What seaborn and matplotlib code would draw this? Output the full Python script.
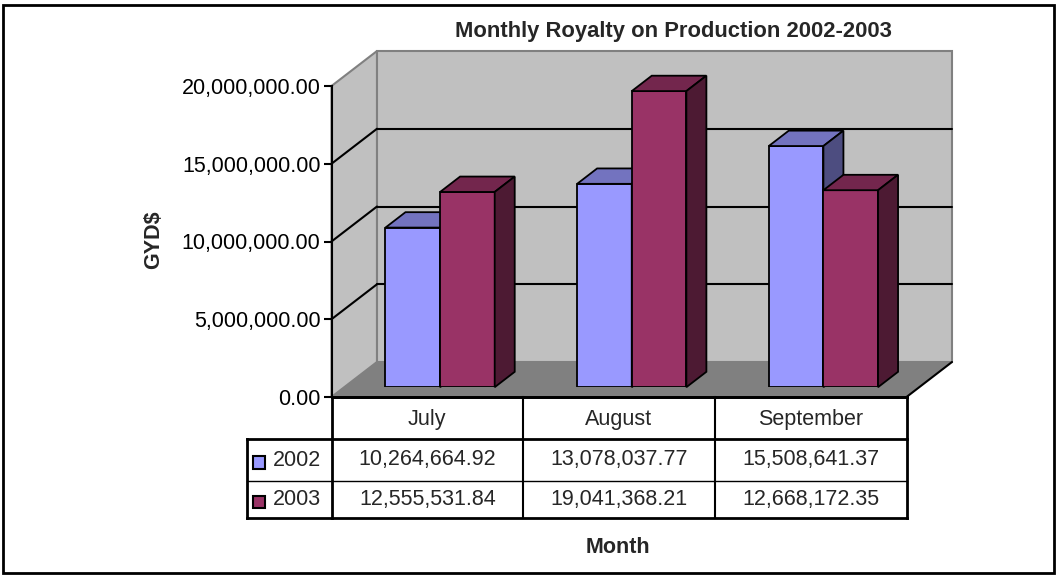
import numpy as np
import pandas as pd
import seaborn as sns
import matplotlib.pyplot as plt
from matplotlib.patches import Polygon, Rectangle

months = ["July", "August", "September"]
years = ["2002", "2003"]
royalty_2002 = [10264664.92, 13078037.77, 15508641.37]
royalty_2003 = [12555531.84, 19041368.21, 12668172.35]
y_ticks = [0, 5000000, 10000000, 15000000, 20000000]

title = "Monthly Royalty on Production 2002-2003"
colors = ["#9999FF", "#993366"]

sns.set_style("white")
plt.rcParams["font.family"] = ["Liberation Sans", "DejaVu Sans"]

W, H = 1056, 577
fig = plt.figure(figsize=(W / 100, H / 100), dpi=100)


def box(l, t, r, b):
    # pixel box (from top-left) -> figure fraction rect
    return [l / W, 1 - b / H, (r - l) / W, (b - t) / H]


# front plane of the plot box, in pixels
FL, FR, F0, F20 = 331.5, 906.5, 397, 86
DEPTH_X, DEPTH_Y = 45.5, 35
ymax = y_ticks[-1]
fs = 15.5

ax = fig.add_axes(box(FL, F20, FR, F0))
ax.set_xlim(-0.5, 2.5)
ax.set_ylim(0, ymax)
ax.patch.set_visible(False)

dxd = DEPTH_X / (FR - FL) * 3
dyd = DEPTH_Y / (F0 - F20) * ymax

# walls and floor
wall, edge = "#C0C0C0", "#808080"
ax.add_patch(Polygon([(-0.5, 0), (-0.5 + dxd, dyd), (-0.5 + dxd, ymax + dyd), (-0.5, ymax)],
                     fc=wall, ec=edge, lw=1.5, clip_on=False, zorder=0))
ax.add_patch(Rectangle((-0.5 + dxd, dyd), 3, ymax, fc=wall, ec=edge, lw=1.5,
                       clip_on=False, zorder=0))
ax.add_patch(Polygon([(-0.5, 0), (2.5, 0), (2.5 + dxd, dyd), (-0.5 + dxd, dyd)],
                     fc="#808080", ec="none", clip_on=False, zorder=0.5))
for v in y_ticks[1:-1]:
    ax.plot([-0.5 + dxd, 2.5 + dxd], [v + dyd] * 2, color="black", lw=1.5, clip_on=False, zorder=1)
    ax.plot([-0.5, -0.5 + dxd], [v, v + dyd], color="black", lw=1.5, clip_on=False, zorder=1)
ax.plot([2.5, 2.5 + dxd], [0, dyd], color="black", lw=1.5, clip_on=False, zorder=1)

for s in ["top", "right"]:
    ax.spines[s].set_visible(False)
ax.spines["left"].set_color("black")
ax.spines["left"].set_linewidth(1.5)
ax.spines["bottom"].set_color("black")
ax.spines["bottom"].set_linewidth(2)
ax.set_xticks([])
ax.set_yticks(y_ticks)
ax.set_yticklabels([f"{v:,.2f}" for v in y_ticks])
ax.tick_params(axis="y", left=True, direction="out", length=6, width=1.5,
               labelsize=fs, pad=2, colors="black")

# bars, sitting a bit into the depth
f0, bd = 0.28, 0.44
ax_bar = fig.add_axes(box(FL + f0 * DEPTH_X, F20 - f0 * DEPTH_Y, FR + f0 * DEPTH_X, F0 - f0 * DEPTH_Y))
df = pd.DataFrame({
    "Month": months * 2,
    "Year": [y for y in years for _ in months],
    "Royalty": royalty_2002 + royalty_2003,
})
sns.barplot(data=df, x="Month", y="Royalty", hue="Year", palette=colors, saturation=1,
            width=0.57, edgecolor="black", linewidth=1.3, errorbar=None,
            legend=False, ax=ax_bar)
ax_bar.set_xlim(-0.5, 2.5)
ax_bar.set_ylim(0, ymax)
ax_bar.axis("off")

bdx, bdy = bd * dxd, bd * dyd
bars = sorted(ax_bar.patches, key=lambda p: p.get_x())
for i, p in enumerate(bars):
    x0, w, h = p.get_x(), p.get_width(), p.get_height()
    fc = np.array(p.get_facecolor()[:3])
    z = 3 + i * 2
    p.set_zorder(z)
    ax_bar.add_patch(Polygon([(x0, h), (x0 + w, h), (x0 + w + bdx, h + bdy), (x0 + bdx, h + bdy)],
                             fc=fc * 0.75, ec="black", lw=1.3, zorder=z, clip_on=False))
    ax_bar.add_patch(Polygon([(x0 + w, 0), (x0 + w, h), (x0 + w + bdx, h + bdy), (x0 + w + bdx, bdy)],
                             fc=fc * 0.5, ec="black", lw=1.3, zorder=z, clip_on=False))

# data table
LK, TB = 246.7, 518
ax_tab = fig.add_axes(box(LK, F0, FR, TB))
kx = 3 / (FR - FL)
left_x = -0.5 - (FL - LK) * kx
ax_tab.set_xlim(left_x, 2.5)
ax_tab.set_ylim(TB - F0, 0)
ax_tab.axis("off")
rows = [0, 42, 84, TB - F0]

kw = dict(color="black", clip_on=False, solid_capstyle="projecting")
ax_tab.plot([-0.5, 2.5], [0, 0], lw=2, **kw)
ax_tab.plot([left_x, 2.5], [rows[1]] * 2, lw=2, **kw)
ax_tab.plot([left_x, 2.5], [rows[2]] * 2, lw=1, **kw)
ax_tab.plot([left_x, 2.5], [rows[3]] * 2, lw=2, **kw)
ax_tab.plot([-0.5, -0.5], [0, rows[3]], lw=2, **kw)
ax_tab.plot([2.5, 2.5], [0, rows[3]], lw=2, **kw)
ax_tab.plot([left_x, left_x], [rows[1], rows[3]], lw=2, **kw)
for xb in [0.5, 1.5]:
    ax_tab.plot([xb, xb], [0, rows[3]], lw=1.5, **kw)

for i, m in enumerate(months):
    ax_tab.text(i, 22, m, ha="center", va="center", fontsize=fs)
for r, (yr, vals, c) in enumerate(zip(years, [royalty_2002, royalty_2003], colors)):
    yc = (rows[r + 1] + rows[r + 2]) / 2
    for i, v in enumerate(vals):
        ax_tab.text(i, yc, f"{v:,.2f}", ha="center", va="center", fontsize=fs)
    ax_tab.add_patch(Rectangle((left_x + 6 * kx, yc - 4), 12.3 * kx, 12.5, fc=c, ec="black",
                               lw=1.5, clip_on=False))
    ax_tab.text(left_x + 26.3 * kx, yc, yr, ha="left", va="center", fontsize=fs)

# titles
fig.text(673.5 / W, 1 - 37 / H, title, ha="center", va="baseline", fontsize=15.8, fontweight="bold")
fig.text(154 / W, 1 - 240 / H, "GYD$", ha="center", va="center", rotation=90,
         fontsize=fs, fontweight="bold")
fig.text(618 / W, 1 - 553 / H, "Month", ha="center", va="baseline", fontsize=fs, fontweight="bold")

fig.add_artist(Rectangle((3 / W, 1 - 573 / H), 1051 / W, 568 / H, transform=fig.transFigure,
                         fill=False, ec="black", lw=2))

fig.savefig("out.png", dpi=100)
